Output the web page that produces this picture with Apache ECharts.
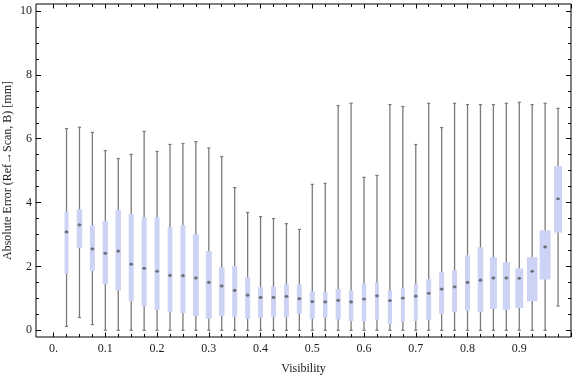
<!DOCTYPE html>
<html>
<head>
<meta charset="utf-8">
<script src="https://cdn.jsdelivr.net/npm/echarts@6/dist/echarts.min.js"></script>
<style>
html, body { margin: 0; padding: 0; background: #fff; }
#chart { width: 576px; height: 377px; }
</style>
</head>
<body>
<div id="chart"></div>
<script>
// box positions on the visibility axis
let visibility = [0.025, 0.05, 0.075, 0.1, 0.125, 0.15, 0.175, 0.2, 0.225, 0.25,
  0.275, 0.3, 0.325, 0.35, 0.375, 0.4, 0.425, 0.45, 0.475, 0.5,
  0.525, 0.55, 0.575, 0.6, 0.625, 0.65, 0.675, 0.7, 0.725, 0.75,
  0.775, 0.8, 0.825, 0.85, 0.875, 0.9, 0.925, 0.95, 0.975];

// whisker ends, quartiles and medians (mm)
let whiskerMax = [6.32, 6.36, 6.20, 5.63, 5.38, 5.51, 6.23, 5.60, 5.82, 5.85,
  5.91, 5.71, 5.44, 4.47, 3.69, 3.56, 3.50, 3.34, 3.16, 4.57,
  4.60, 7.04, 7.11, 4.79, 4.85, 7.07, 7.01, 5.82, 7.11, 6.35,
  7.11, 7.07, 7.07, 7.07, 7.11, 7.14, 7.07, 7.11, 6.95];
let q3 = [3.72, 3.79, 3.29, 3.42, 3.77, 3.64, 3.54, 3.54, 3.23, 3.29,
  3.01, 2.48, 1.97, 2.01, 1.66, 1.35, 1.36, 1.44, 1.44, 1.22,
  1.19, 1.29, 1.25, 1.47, 1.50, 1.25, 1.32, 1.44, 1.60, 1.82,
  1.88, 2.35, 2.60, 2.29, 2.13, 1.94, 2.29, 3.13, 5.14];
let median = [3.08, 3.30, 2.55, 2.41, 2.48, 2.07, 1.94, 1.85, 1.72, 1.71,
  1.64, 1.50, 1.39, 1.25, 1.10, 1.03, 1.03, 1.06, 0.99, 0.90,
  0.89, 0.94, 0.89, 0.98, 1.08, 0.93, 1.01, 1.07, 1.16, 1.29,
  1.36, 1.50, 1.57, 1.64, 1.64, 1.63, 1.85, 2.61, 4.12];
let q1 = [1.77, 2.58, 1.86, 1.45, 1.25, 0.91, 0.76, 0.64, 0.57, 0.54,
  0.45, 0.36, 0.45, 0.42, 0.36, 0.39, 0.42, 0.42, 0.51, 0.36,
  0.39, 0.34, 0.29, 0.28, 0.32, 0.20, 0.26, 0.29, 0.32, 0.51,
  0.57, 0.61, 0.57, 0.67, 0.64, 0.70, 0.91, 1.59, 3.06];
let whiskerMin = [0.12, 0.40, 0.18, 0, 0, 0, 0, 0, 0, 0,
  0, 0, 0, 0, 0, 0, 0, 0, 0, 0,
  0, 0, 0, 0, 0, 0, 0, 0, 0, 0,
  0, 0, 0, 0, 0, 0, 0, 0, 0.76];
// box width in visibility units (varies per bin)
let boxWidth = [0.0077, 0.0106, 0.0097, 0.0106, 0.0106, 0.0097, 0.0097, 0.0097, 0.0090, 0.0097,
  0.0116, 0.0116, 0.0106, 0.0097, 0.0097, 0.0097, 0.0097, 0.0097, 0.0097, 0.0097,
  0.0087, 0.0097, 0.0087, 0.0087, 0.0077, 0.0083, 0.0077, 0.0077, 0.0097, 0.0097,
  0.0097, 0.0097, 0.0106, 0.0135, 0.0140, 0.0155, 0.0203, 0.0212, 0.0155];

// tick labels
let xLabels = [0, 0.1, 0.2, 0.3, 0.4, 0.5, 0.6, 0.7, 0.8, 0.9];
let yLabels = [0, 2, 4, 6, 8, 10];

let xMajor = [0, 0.1, 0.2, 0.3, 0.4, 0.5, 0.6, 0.7, 0.8, 0.9, 1];
let xMinor = [];
for (let i = 0; i <= 40; i++) xMinor.push(+(i * 0.025).toFixed(3));
let yMajor = yLabels;
let yMinor = [];
for (let i = 0; i <= 20; i++) yMinor.push(i * 0.5);

const X_MIN = -0.034, X_MAX = 1.0;
const Y_MIN = -0.21, Y_MAX = 10.22;
const FONT = 'Liberation Serif';

let chart = echarts.init(document.getElementById('chart'));

let tickStyle = { color: '#000', width: 1 };
let labelStyle = { fontFamily: FONT, fontSize: 12, color: '#1a1a1a' };

function xAxisDef(pos, ticks, len, withLabels) {
  let ax = {
    type: 'value', position: pos, offset: 0, min: X_MIN, max: X_MAX,
    axisLine: { show: false, onZero: false }, splitLine: { show: false },
    axisTick: { show: true, inside: true, length: len, customValues: ticks, lineStyle: tickStyle },
    axisLabel: { show: false }
  };
  if (withLabels) {
    ax.axisLabel = {
      show: true, customValues: xLabels, margin: 6,
      formatter: function (v) { return v === 0 ? '0.' : String(v); },
      fontFamily: FONT, fontSize: 12, color: '#1a1a1a'
    };
    ax.name = 'Visibility';
    ax.nameLocation = 'middle';
    ax.nameGap = 26;
    ax.nameMoveOverlap = false;
    ax.nameTextStyle = labelStyle;
  }
  return ax;
}

function yAxisDef(pos, ticks, len, withLabels) {
  let ax = {
    type: 'value', position: pos, offset: 0, min: Y_MIN, max: Y_MAX,
    axisLine: { show: false, onZero: false }, splitLine: { show: false },
    axisTick: { show: true, inside: true, length: len, customValues: ticks, lineStyle: tickStyle },
    axisLabel: { show: false }
  };
  if (withLabels) {
    ax.axisLabel = {
      show: true, customValues: yLabels, margin: 4,
      fontFamily: FONT, fontSize: 12, color: '#1a1a1a'
    };
    ax.name = 'Absolute Error (Ref\u2192Scan, B) [mm]';
    ax.nameLocation = 'middle';
    ax.nameGap = 22;
    ax.nameMoveOverlap = false;
    ax.nameTextStyle = labelStyle;
  }
  return ax;
}

let boxData = visibility.map(function (v, i) {
  return [v, whiskerMin[i], q1[i], median[i], q3[i], whiskerMax[i], boxWidth[i]];
});

function renderBox(params, api) {
  let x = api.value(0);
  let pMin = api.coord([x, api.value(1)]);
  let pQ1 = api.coord([x, api.value(2)]);
  let pMed = api.coord([x, api.value(3)]);
  let pQ3 = api.coord([x, api.value(4)]);
  let pMax = api.coord([x, api.value(5)]);
  let w = api.size([api.value(6), 0])[0];
  let cx = pMed[0];
  let grey = '#7a7a7a';
  return {
    type: 'group',
    children: [
      { type: 'line', shape: { x1: cx, y1: pMin[1], x2: cx, y2: pMax[1] },
        style: { stroke: grey, lineWidth: 1.3 } },
      { type: 'line', shape: { x1: cx - 1.6, y1: pMax[1], x2: cx + 1.6, y2: pMax[1] },
        style: { stroke: grey, lineWidth: 1.2 } },
      { type: 'line', shape: { x1: cx - 1.6, y1: pMin[1], x2: cx + 1.6, y2: pMin[1] },
        style: { stroke: grey, lineWidth: 1.2 } },
      { type: 'rect', shape: { x: cx - w / 2, y: pQ3[1], width: w, height: pQ1[1] - pQ3[1] },
        style: { fill: '#cdd3f5' } },
      { type: 'line', shape: { x1: cx - 2.2, y1: pMed[1], x2: cx + 2.2, y2: pMed[1] },
        style: { stroke: '#8a8a9a', lineWidth: 1 } },
      { type: 'circle', shape: { cx: cx, cy: pMed[1], r: 1.6 },
        style: { fill: '#6f6f78' } }
    ]
  };
}

let option = {
  animation: false,
  grid: {
    left: 36, right: 5, top: 4, bottom: 40,
    outerBoundsMode: 'none', containLabel: false,
    show: true, borderColor: '#000', borderWidth: 1, backgroundColor: 'transparent'
  },
  xAxis: [
    xAxisDef('bottom', xMajor, 4.5, true),
    xAxisDef('bottom', xMinor, 3, false),
    xAxisDef('top', xMajor, 4.5, false),
    xAxisDef('top', xMinor, 3, false)
  ],
  yAxis: [
    yAxisDef('left', yMajor, 5, true),
    yAxisDef('left', yMinor, 3, false),
    yAxisDef('right', yMajor, 5, false),
    yAxisDef('right', yMinor, 3, false)
  ],
  series: [{
    name: 'error',
    type: 'custom',
    xAxisIndex: 0,
    yAxisIndex: 0,
    renderItem: renderBox,
    encode: { x: 0, y: [1, 2, 3, 4, 5] },
    data: boxData,
    clip: false
  }]
};

chart.setOption(option);
</script>
</body>
</html>
